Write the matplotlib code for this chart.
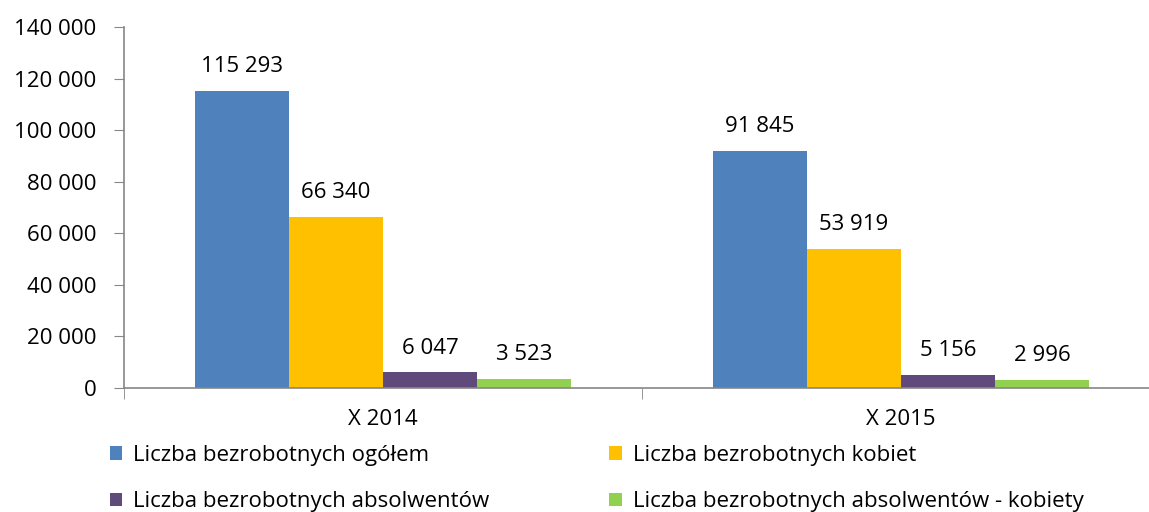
import matplotlib
matplotlib.use("Agg")
import matplotlib.pyplot as plt
from matplotlib.patches import Patch
from matplotlib.ticker import FuncFormatter
import numpy as np

categories = ["X 2014", "X 2015"]
series_names = [
    "Liczba bezrobotnych ogółem",
    "Liczba bezrobotnych kobiet",
    "Liczba bezrobotnych absolwentów",
    "Liczba bezrobotnych absolwentów - kobiety",
]
ogolem = [115293, 91845]
kobiet = [66340, 53919]
absolwentow = [6047, 5156]
absolwentow_kobiety = [3523, 2996]
colors = ["#4F81BD", "#FFC000", "#604A7B", "#92D050"]

plt.rcParams['font.family'] = ['Open Sans', 'DejaVu Sans']
FS = 16

fig = plt.figure(figsize=(11.49, 5.12), dpi=100)
W, H = 1149, 512
ax = fig.add_axes([124 / W, (H - 388) / H, (1160 - 124) / W, (388 - 27) / H])

values = [ogolem, kobiet, absolwentow, absolwentow_kobiety]
x = np.arange(len(categories))
w = 94 / 518
offsets = (np.arange(4) - 1.5) * w

def fmt(v):
    return f"{int(v):,}".replace(",", " ")

for i, (vals, c) in enumerate(zip(values, colors)):
    bars = ax.bar(x + offsets[i], vals, width=w, color=c, edgecolor='none', zorder=2)
    for b, v in zip(bars, vals):
        ax.annotate(fmt(v), (b.get_x() + b.get_width() / 2, v), xytext=(0, 17.5),
                    textcoords='offset points', ha='center', va='center',
                    fontsize=FS, color='black')

ax.set_xlim(-0.5, 1.5)
ax.set_ylim(0, 140000)
ax.set_yticks(np.arange(0, 140001, 20000))
ax.yaxis.set_major_formatter(FuncFormatter(lambda v, p: fmt(v)))
ax.set_xticks(x)
ax.set_xticklabels(categories)
ax.set_xticks([-0.5, 0.5, 1.5], minor=True)
ax.tick_params(axis='x', which='major', length=0, pad=15, labelsize=FS)
ax.tick_params(axis='x', which='minor', length=8, color='#868686', direction='out')
ax.tick_params(axis='y', length=7, color='#868686', direction='out', labelsize=FS, pad=13)

for s in ['top', 'right']:
    ax.spines[s].set_visible(False)
for s in ['left', 'bottom']:
    ax.spines[s].set_color('#868686')
    ax.spines[s].set_linewidth(1.2)

handles = [Patch(facecolor=c, edgecolor='none') for c in colors]
order = [0, 2, 1, 3]
fig.legend([handles[i] for i in order], [series_names[i] for i in order],
           ncol=2, loc='upper left', bbox_to_anchor=(101 / W, 1 - 436 / H),
           frameon=False, fontsize=FS, handlelength=0.55, handleheight=0.55,
           handletextpad=0.5, labelspacing=1.15, columnspacing=5.4, borderaxespad=0)

fig.savefig("out.png", dpi=100)
